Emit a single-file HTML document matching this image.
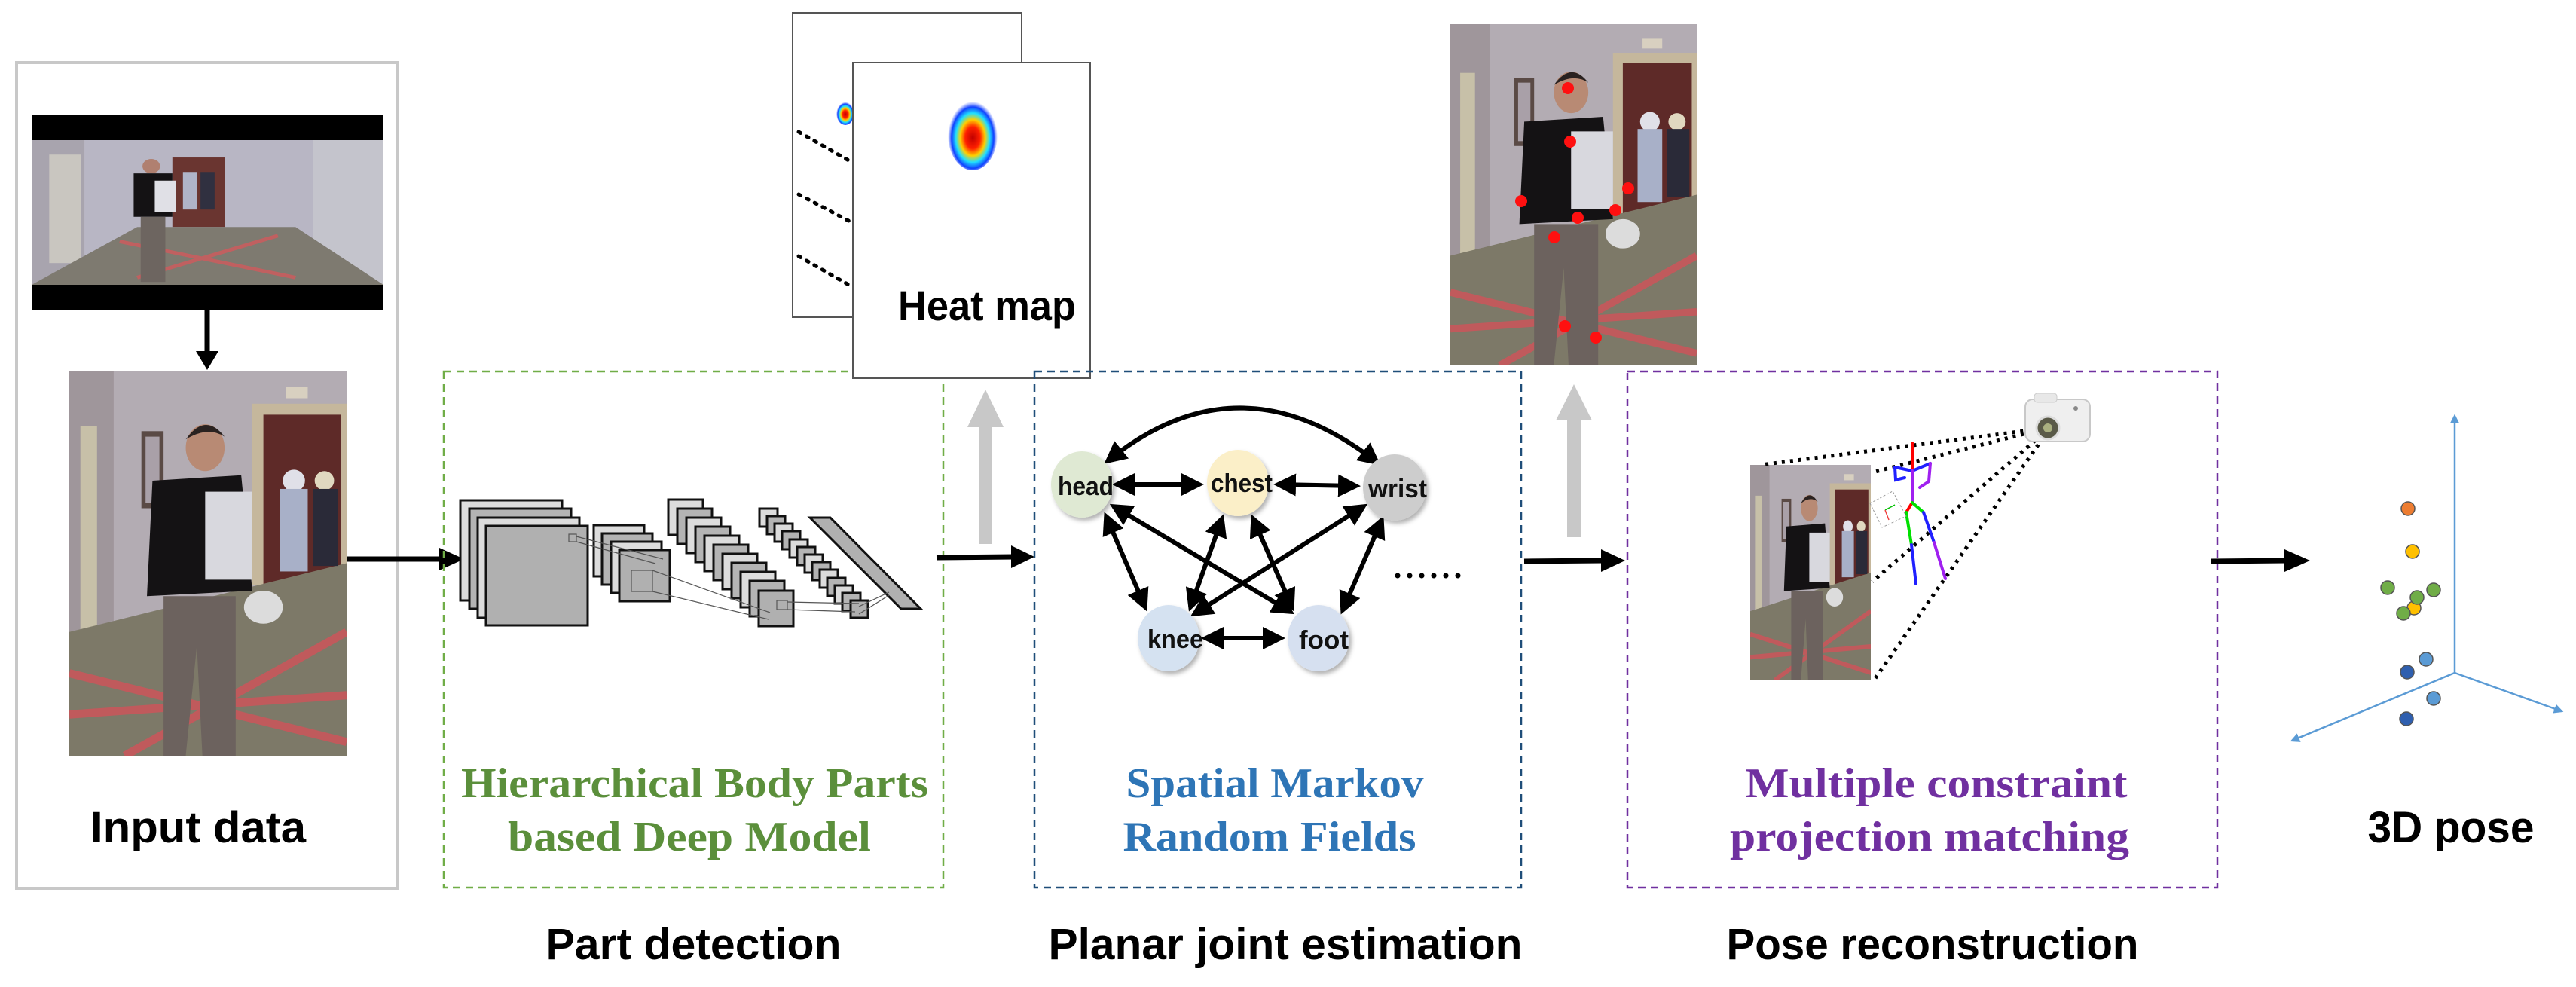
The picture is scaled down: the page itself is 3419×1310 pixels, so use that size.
<!DOCTYPE html>
<html><head><meta charset="utf-8"><style>html,body{margin:0;padding:0;background:#fff}svg{display:block}</style></head>
<body>
<svg width="3419" height="1310" viewBox="0 0 3419 1310" xmlns="http://www.w3.org/2000/svg">
<defs>
<marker id="ah" viewBox="0 0 10 10" refX="8" refY="5" markerWidth="5" markerHeight="5" orient="auto-start-reverse"><path d="M0,0 L10,5 L0,10 z" fill="#000"/></marker>
<marker id="ab" viewBox="0 0 10 10" refX="8" refY="5" markerWidth="5" markerHeight="5" orient="auto-start-reverse"><path d="M0,0 L10,5 L0,10 z" fill="#5b9bd5"/></marker>
<radialGradient id="heat" cx="50%" cy="55%" r="50%">
<stop offset="0" stop-color="#c00000"/><stop offset="0.3" stop-color="#ff2000"/><stop offset="0.5" stop-color="#ffd000"/><stop offset="0.68" stop-color="#20e0ff"/><stop offset="0.85" stop-color="#1040ff"/><stop offset="1" stop-color="#4060ff" stop-opacity="0"/>
</radialGradient>
<filter id="sh" x="-30%" y="-30%" width="160%" height="160%"><feDropShadow dx="3" dy="4" stdDeviation="3" flood-color="#000" flood-opacity="0.3"/></filter>
<symbol id="scene" viewBox="0 0 100 140" preserveAspectRatio="none">
<rect width="100" height="140" fill="#b3acb3"/>
<polygon points="0,0 16,0 16,105 0,125" fill="#9f969b"/>
<rect x="4" y="20" width="6" height="80" fill="#c7c0a8"/>
<rect x="26" y="22" width="8" height="28" fill="#5a4a45"/>
<rect x="27.5" y="24" width="5" height="24" fill="#a9a0a8"/>
<rect x="66" y="12" width="34" height="66" fill="#c5b79c"/>
<rect x="70" y="16" width="28" height="62" fill="#5e2a28"/>
<rect x="78" y="6" width="8" height="4" fill="#d8d0c0"/>
<polygon points="0,95 100,70 100,140 0,140" fill="#7d7968"/>
<g stroke="#c05a5c" stroke-width="3" fill="none"><line x1="0" y1="110" x2="100" y2="135"/><line x1="20" y1="140" x2="100" y2="95"/><line x1="0" y1="125" x2="100" y2="118"/></g>
<circle cx="81" cy="40" r="4" fill="#e0e0e8"/><rect x="76" y="43" width="10" height="30" fill="#a8b0c8"/>
<circle cx="92" cy="40" r="3.5" fill="#e0d8c0"/><rect x="88" y="43" width="9" height="28" fill="#2a2a38"/>
<ellipse cx="49" cy="28" rx="7" ry="8.5" fill="#b88a74"/><path d="M42,25 Q49,15 56,24 Q50,20 42,25z" fill="#2a2220"/>
<path d="M30,40 L62,38 L66,80 L28,82 z" fill="#141214"/>
<rect x="49" y="44" width="17" height="32" fill="#d8d8de"/>
<path d="M34,82 L60,82 L60,140 L48,140 L46,100 L42,140 L34,140 z" fill="#6c625e"/>
<ellipse cx="70" cy="86" rx="7" ry="6" fill="#dcdcdc"/>
</symbol>
<symbol id="scene2" viewBox="0 0 200 100" preserveAspectRatio="none">
<rect width="200" height="100" fill="#b8b6c4"/>
<polygon points="0,0 30,0 30,85 0,100" fill="#a8a4ae"/>
<polygon points="200,0 160,0 160,85 200,100" fill="#c4c4cc"/>
<rect x="10" y="10" width="18" height="75" fill="#c9c6c0"/>
<rect x="80" y="12" width="30" height="48" fill="#6a3530"/>
<polygon points="0,100 60,60 150,60 200,100" fill="#7e7a70"/>
<g stroke="#c06060" stroke-width="2.5"><line x1="50" y1="70" x2="150" y2="95"/><line x1="60" y1="95" x2="140" y2="66"/></g>
<circle cx="68" cy="18" r="5" fill="#b08070"/><rect x="58" y="23" width="22" height="30" fill="#141214"/><rect x="70" y="28" width="12" height="22" fill="#e0e0e6"/><rect x="62" y="53" width="14" height="45" fill="#6d6560"/>
<rect x="86" y="22" width="8" height="26" fill="#b0b4c8"/><rect x="96" y="22" width="8" height="26" fill="#303040"/>
</symbol>
</defs>

<!-- Input data -->
<rect x="22" y="83" width="505" height="1096" fill="none" stroke="#c8c8c8" stroke-width="4"/>
<rect x="42" y="152" width="467" height="259" fill="#000"/>
<use href="#scene2" x="42" y="186" width="467" height="192"/>
<line x1="275" y1="411" x2="275" y2="470" stroke="#000" stroke-width="7"/>
<polygon points="260,466 290,466 275,491" fill="#000"/>
<use href="#scene" x="92" y="492" width="368" height="511"/>
<text x="263" y="1118" font-family="Liberation Sans, sans-serif" font-weight="bold" font-size="58" text-anchor="middle" textLength="286" lengthAdjust="spacingAndGlyphs">Input data</text>

<!-- arrow to green -->
<line x1="460" y1="742" x2="585" y2="742" stroke="#000" stroke-width="7"/>
<polygon points="583,727 616,742 583,757" fill="#000"/>

<!-- Green box -->
<rect x="589" y="493" width="663" height="685" fill="none" stroke="#70ad47" stroke-width="2.5" stroke-dasharray="10,7"/>
<g stroke="#111" stroke-width="3">
<rect x="611" y="664" width="135" height="133" fill="#dcdcdc"/>
<rect x="623" y="675" width="135" height="133" fill="#b4b4b4"/>
<rect x="634" y="687" width="135" height="133" fill="#dcdcdc"/>
<rect x="645" y="698" width="135" height="132" fill="#b0b0b0"/>
<rect x="788" y="697" width="67" height="68" fill="#dcdcdc"/>
<rect x="799" y="708" width="67" height="68" fill="#b4b4b4"/>
<rect x="811" y="719" width="67" height="68" fill="#dcdcdc"/>
<rect x="822" y="730" width="67" height="68" fill="#b0b0b0"/>
<rect x="887" y="663" width="46" height="47" fill="#dcdcdc"/>
<rect x="899" y="675" width="46" height="47" fill="#b4b4b4"/>
<rect x="911" y="687" width="46" height="47" fill="#dcdcdc"/>
<rect x="923" y="699" width="46" height="47" fill="#b4b4b4"/>
<rect x="935" y="711" width="46" height="47" fill="#dcdcdc"/>
<rect x="947" y="723" width="46" height="47" fill="#b4b4b4"/>
<rect x="959" y="735" width="46" height="47" fill="#dcdcdc"/>
<rect x="971" y="747" width="46" height="47" fill="#b4b4b4"/>
<rect x="983" y="759" width="46" height="47" fill="#dcdcdc"/>
<rect x="995" y="771" width="46" height="47" fill="#b4b4b4"/>
<rect x="1007" y="784" width="46" height="47" fill="#b0b0b0"/>
<rect x="1008" y="675" width="24" height="24" fill="#dcdcdc"/>
<rect x="1018" y="685" width="24" height="24" fill="#b4b4b4"/>
<rect x="1028" y="695" width="24" height="24" fill="#dcdcdc"/>
<rect x="1038" y="705" width="24" height="24" fill="#b4b4b4"/>
<rect x="1048" y="716" width="24" height="24" fill="#dcdcdc"/>
<rect x="1058" y="726" width="24" height="24" fill="#b4b4b4"/>
<rect x="1068" y="736" width="24" height="24" fill="#dcdcdc"/>
<rect x="1078" y="746" width="24" height="24" fill="#b4b4b4"/>
<rect x="1088" y="756" width="24" height="24" fill="#dcdcdc"/>
<rect x="1098" y="767" width="24" height="24" fill="#b4b4b4"/>
<rect x="1108" y="777" width="24" height="24" fill="#dcdcdc"/>
<rect x="1118" y="787" width="24" height="24" fill="#b4b4b4"/>
<rect x="1129" y="797" width="23" height="23" fill="#b0b0b0"/>
<polygon points="1075,687 1102,687 1222,808 1196,808" fill="#b0b0b0"/>
</g>
<g stroke="#555" stroke-width="1.2" fill="none">
<rect x="755" y="709" width="10" height="10"/>
<line x1="765" y1="712" x2="880" y2="742"/><line x1="765" y1="719" x2="870" y2="748"/>
<rect x="838" y="757" width="28" height="28"/>
<line x1="866" y1="757" x2="1022" y2="813"/><line x1="866" y1="785" x2="1020" y2="822"/>
<rect x="1031" y="797" width="14" height="12"/>
<line x1="1045" y1="799" x2="1140" y2="801"/><line x1="1045" y1="809" x2="1135" y2="812"/>
<line x1="1140" y1="805" x2="1180" y2="786"/><line x1="1140" y1="815" x2="1180" y2="790"/>
</g>
<g font-family="Liberation Serif, serif" font-weight="bold" font-size="56" fill="#5b8f3b" text-anchor="middle">
<text x="922" y="1058" textLength="620" lengthAdjust="spacingAndGlyphs">Hierarchical Body Parts</text>
<text x="915" y="1129" textLength="482" lengthAdjust="spacingAndGlyphs">based Deep Model</text>
</g>
<text x="920" y="1273" font-family="Liberation Sans, sans-serif" font-weight="bold" font-size="58" text-anchor="middle" textLength="393" lengthAdjust="spacingAndGlyphs">Part detection</text>

<!-- Heat map -->
<rect x="1052" y="17" width="304" height="404" fill="#fff" stroke="#555" stroke-width="2"/>
<ellipse cx="1122" cy="150" rx="12" ry="16" fill="url(#heat)"/>
<g stroke="#000" stroke-width="5" stroke-dasharray="3,9" stroke-linecap="round">
<line x1="1060" y1="175" x2="1130" y2="215"/><line x1="1060" y1="258" x2="1130" y2="295"/><line x1="1060" y1="340" x2="1130" y2="380"/>
</g>
<rect x="1132" y="83" width="315" height="419" fill="#fff" stroke="#555" stroke-width="2"/>
<ellipse cx="1291" cy="178" rx="33" ry="48" fill="url(#heat)"/>
<text x="1310" y="425" font-family="Liberation Sans, sans-serif" font-weight="bold" font-size="56" text-anchor="middle" textLength="236" lengthAdjust="spacingAndGlyphs">Heat map</text>

<!-- gray arrows -->
<rect x="1299" y="567" width="18" height="155" fill="#c8c8c8"/>
<polygon points="1284,567 1332,567 1308,517" fill="#c8c8c8"/>
<rect x="2080" y="558" width="18" height="155" fill="#c8c8c8"/>
<polygon points="2065,558 2113,558 2089,510" fill="#c8c8c8"/>

<!-- arrow green->blue -->
<line x1="1243" y1="740" x2="1345" y2="739" stroke="#000" stroke-width="7"/>
<polygon points="1342,724 1373,739 1342,754" fill="#000"/>

<!-- Blue box -->
<rect x="1373" y="493" width="646" height="685" fill="none" stroke="#1f4e79" stroke-width="2.5" stroke-dasharray="10,7"/>
<g stroke="#000" stroke-width="6" fill="none" marker-start="url(#ah)" marker-end="url(#ah)">
<path d="M1470,612 Q1645,470 1828,614"/>
<line x1="1482" y1="643" x2="1592" y2="643"/>
<line x1="1696" y1="643" x2="1800" y2="645"/>
<line x1="1600" y1="847" x2="1700" y2="847"/>
<line x1="1468" y1="685" x2="1520" y2="806"/>
<line x1="1478" y1="672" x2="1713" y2="812"/>
<line x1="1622" y1="688" x2="1580" y2="806"/>
<line x1="1663" y1="688" x2="1715" y2="806"/>
<line x1="1810" y1="672" x2="1585" y2="815"/>
<line x1="1834" y1="690" x2="1782" y2="810"/>
</g>
<g filter="url(#sh)">
<ellipse cx="1436" cy="643" rx="41" ry="44" fill="#dfe9d3"/>
<ellipse cx="1643" cy="641" rx="41" ry="44" fill="#fbefc8"/>
<ellipse cx="1851" cy="647" rx="42" ry="44" fill="#cdcdcd"/>
<ellipse cx="1551" cy="847" rx="41" ry="44" fill="#d5e2f1"/>
<ellipse cx="1750" cy="847" rx="41" ry="44" fill="#d6e0f0"/>
</g>
<g font-family="Liberation Sans, sans-serif" font-weight="bold" font-size="34" text-anchor="middle" fill="#111">
<text x="1441" y="657" textLength="74" lengthAdjust="spacingAndGlyphs">head</text>
<text x="1648" y="653" textLength="82" lengthAdjust="spacingAndGlyphs">chest</text>
<text x="1855" y="660" textLength="78" lengthAdjust="spacingAndGlyphs">wrist</text>
<text x="1560" y="860" textLength="74" lengthAdjust="spacingAndGlyphs">knee</text>
<text x="1757" y="861" textLength="66" lengthAdjust="spacingAndGlyphs">foot</text>
</g>
<g fill="#000"><circle cx="1855" cy="764" r="3.5"/><circle cx="1871" cy="764" r="3.5"/><circle cx="1887" cy="764" r="3.5"/><circle cx="1903" cy="764" r="3.5"/><circle cx="1919" cy="764" r="3.5"/><circle cx="1935" cy="764" r="3.5"/></g>
<g font-family="Liberation Serif, serif" font-weight="bold" font-size="56" fill="#2e75b6" text-anchor="middle">
<text x="1692" y="1058" textLength="395" lengthAdjust="spacingAndGlyphs">Spatial Markov</text>
<text x="1685" y="1129" textLength="389" lengthAdjust="spacingAndGlyphs">Random Fields</text>
</g>
<text x="1706" y="1273" font-family="Liberation Sans, sans-serif" font-weight="bold" font-size="58" text-anchor="middle" textLength="629" lengthAdjust="spacingAndGlyphs">Planar joint estimation</text>

<!-- photo with red dots -->
<use href="#scene" x="1925" y="32" width="327" height="453"/>
<g fill="#ff1010">
<circle cx="2081" cy="117" r="8"/><circle cx="2084" cy="188" r="8"/><circle cx="2019" cy="267" r="8"/><circle cx="2161" cy="250" r="8"/><circle cx="2144" cy="279" r="8"/><circle cx="2094" cy="289" r="8"/><circle cx="2063" cy="315" r="8"/><circle cx="2077" cy="433" r="8"/><circle cx="2118" cy="448" r="8"/>
</g>

<!-- arrow blue->purple -->
<line x1="2023" y1="745" x2="2128" y2="744" stroke="#000" stroke-width="7"/>
<polygon points="2125,729 2157,744 2125,759" fill="#000"/>

<!-- Purple box -->
<rect x="2160" y="493" width="783" height="685" fill="none" stroke="#7030a0" stroke-width="2.5" stroke-dasharray="10,7"/>
<use href="#scene" x="2323" y="617" width="160" height="286"/>
<g stroke="#000" stroke-width="5" stroke-dasharray="4,7" fill="none">
<line x1="2718" y1="568" x2="2337" y2="617"/>
<line x1="2718" y1="568" x2="2485" y2="627"/>
<line x1="2718" y1="570" x2="2485" y2="772"/>
<line x1="2718" y1="572" x2="2487" y2="903"/>
</g>
<!-- camera -->
<rect x="2688" y="530" width="86" height="56" rx="10" fill="#efefef" stroke="#c8c8c8" stroke-width="2"/>
<rect x="2700" y="522" width="30" height="12" rx="4" fill="#e8e8e8" stroke="#ccc"/>
<circle cx="2718" cy="568" r="15" fill="#5a5a48" stroke="#ddd" stroke-width="3"/>
<circle cx="2718" cy="568" r="6" fill="#aab080"/>
<circle cx="2755" cy="542" r="3" fill="#888"/>
<!-- skeleton -->
<g stroke-width="4" fill="none" stroke-linecap="round">
<line x1="2538" y1="588" x2="2538" y2="623" stroke="#ff0000"/>
<polyline points="2515,620 2538,625 2562,615" stroke="#2020ff"/>
<polyline points="2515,620 2516,637 2528,634" stroke="#2020ff"/>
<polyline points="2562,615 2560,639 2548,647" stroke="#a020f0"/>
<line x1="2538" y1="625" x2="2538" y2="667" stroke="#a020f0"/>
<polyline points="2538,667 2530,680" stroke="#ff0000"/>
<polyline points="2530,680 2537,723" stroke="#00e000"/>
<line x1="2537" y1="723" x2="2543" y2="775" stroke="#2020ff"/>
<polyline points="2538,667 2553,680" stroke="#00e000"/>
<line x1="2553" y1="680" x2="2567" y2="720" stroke="#2020ff"/>
<line x1="2567" y1="720" x2="2582" y2="768" stroke="#a020f0"/>
</g>
<g stroke="#999" stroke-width="1" stroke-dasharray="3,2" fill="none"><polygon points="2482,668 2512,652 2530,685 2498,700"/></g>
<line x1="2502" y1="677" x2="2515" y2="670" stroke="#00c000" stroke-width="1.5"/><line x1="2502" y1="677" x2="2507" y2="690" stroke="#f04040" stroke-width="1.5"/>
<g font-family="Liberation Serif, serif" font-weight="bold" font-size="56" fill="#7030a0" text-anchor="middle">
<text x="2570" y="1058" textLength="507" lengthAdjust="spacingAndGlyphs">Multiple constraint</text>
<text x="2561" y="1129" textLength="530" lengthAdjust="spacingAndGlyphs">projection matching</text>
</g>
<text x="2565" y="1273" font-family="Liberation Sans, sans-serif" font-weight="bold" font-size="58" text-anchor="middle" textLength="547" lengthAdjust="spacingAndGlyphs">Pose reconstruction</text>

<!-- arrow to 3D -->
<line x1="2935" y1="745" x2="3035" y2="744" stroke="#000" stroke-width="7"/>
<polygon points="3032,729 3066,744 3032,759" fill="#000"/>

<!-- 3D pose -->
<g stroke="#5b9bd5" stroke-width="2.5">
<line x1="3258" y1="893" x2="3258" y2="552" marker-end="url(#ab)"/>
<line x1="3258" y1="893" x2="3400" y2="944" marker-end="url(#ab)"/>
<line x1="3258" y1="893" x2="3042" y2="983" marker-end="url(#ab)"/>
</g>
<g stroke="#555" stroke-width="1.5">
<circle cx="3196" cy="675" r="9" fill="#ed7d31"/>
<circle cx="3202" cy="732" r="9" fill="#ffc000"/>
<circle cx="3169" cy="780" r="9" fill="#70ad47"/>
<circle cx="3230" cy="783" r="9" fill="#70ad47"/>
<circle cx="3204" cy="807" r="9" fill="#ffc000"/>
<circle cx="3208" cy="793" r="9" fill="#70ad47"/>
<circle cx="3190" cy="814" r="9" fill="#70ad47"/>
<circle cx="3220" cy="875" r="9" fill="#5b9bd5"/>
<circle cx="3195" cy="892" r="9" fill="#2f5faf"/>
<circle cx="3230" cy="927" r="9" fill="#5b9bd5"/>
<circle cx="3194" cy="954" r="9" fill="#2f5faf"/>
</g>
<text x="3253" y="1118" font-family="Liberation Sans, sans-serif" font-weight="bold" font-size="58" text-anchor="middle" textLength="221" lengthAdjust="spacingAndGlyphs">3D pose</text>
</svg>
</body></html>
